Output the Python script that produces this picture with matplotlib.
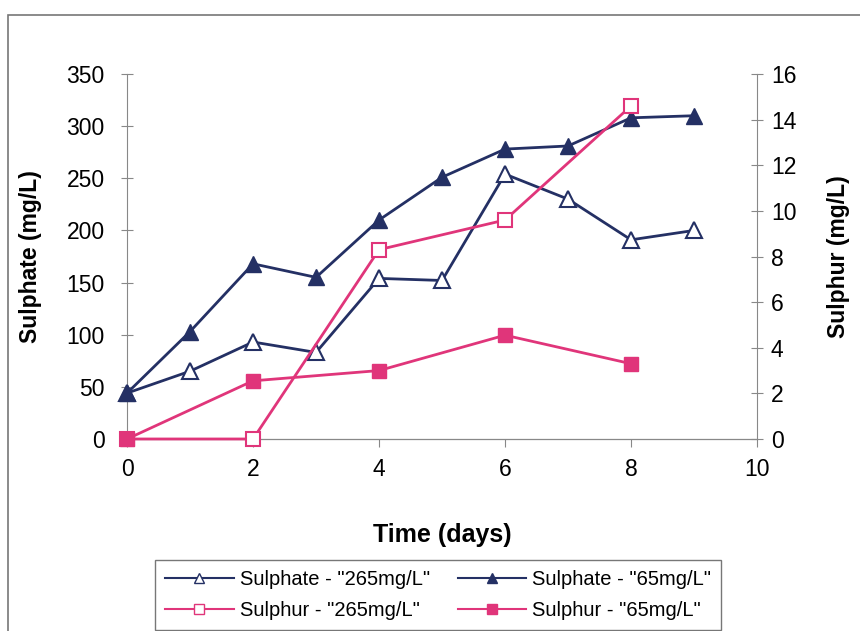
import numpy as np
import matplotlib.pyplot as plt
from matplotlib.patches import Rectangle
from matplotlib.lines import Line2D

plt.rcParams['font.family'] = ['Liberation Sans', 'DejaVu Sans']

days = [0, 1, 2, 3, 4, 5, 6, 7, 8, 9]
sulphate_265 = [44, 65, 93, 83, 154, 152, 254, 230, 191, 200]
sulphate_65 = [44, 103, 168, 155, 210, 251, 278, 281, 308, 310]

sulphur_days = [0, 2, 4, 6, 8]
sulphur_265 = [0, 0, 8.3, 9.6, 14.6]
sulphur_65 = [0, 2.55, 3.0, 4.55, 3.3]

navy = '#243064'
pink = '#e0357a'

fig = plt.figure(figsize=(8.6, 6.31), dpi=100)
ax = fig.add_axes([0.1477, 0.3043, 0.7326, 0.5784])
ax2 = ax.twinx()

ax.plot(days, sulphate_265, c=navy, lw=2, marker='^', ms=11, mfc='white', mec=navy, mew=1.5, zorder=3, clip_on=False)
ax.plot(days, sulphate_65, c=navy, lw=2, marker='^', ms=11, mfc=navy, mec=navy, zorder=3, clip_on=False)
ax2.plot(sulphur_days, sulphur_265, c=pink, lw=2, marker='s', ms=10, mfc='white', mec=pink, mew=1.5, zorder=3, clip_on=False)
ax2.plot(sulphur_days, sulphur_65, c=pink, lw=2, marker='s', ms=10, mfc=pink, mec=pink, zorder=3, clip_on=False)

ax.set_xlim(0, 10)
ax.set_ylim(0, 350)
ax2.set_ylim(0, 16)
ax.set_xticks(np.arange(0, 11, 2))
ax.set_yticks(np.arange(0, 351, 50))
ax2.set_yticks(np.arange(0, 17, 2))

for a in (ax, ax2):
    a.spines['top'].set_visible(False)
    a.tick_params(labelsize=16.5, colors='#888888', labelcolor='black', length=5, width=0.8)
    for s in a.spines.values():
        s.set_color('#888888')
ax.spines['bottom'].set_color('#555555')
ax.spines['right'].set_visible(False)
ax2.spines['left'].set_visible(False)
ax2.tick_params(axis='y', direction='inout', length=8, pad=6)
ax.tick_params(axis='y', direction='inout', length=8, pad=12)
ax.tick_params(axis='x', direction='out', length=6, pad=8)

ax.set_xlabel('Time (days)', fontsize=18, fontweight='bold', labelpad=30)
ax.set_ylabel('Sulphate (mg/L)', fontsize=16.5, fontweight='bold', labelpad=18)
ax2.set_ylabel('Sulphur (mg/L)', fontsize=16.5, fontweight='bold', labelpad=22)

# outer chart frame
fig.patches.append(Rectangle((8 / 860, -0.01), 1.0, 1 - 15 / 631 + 0.01, transform=fig.transFigure,
                             fill=False, ec='#777777', lw=1.2))

handles = [
    Line2D([], [], c=navy, lw=1.5, marker='^', ms=7, mfc='white', mec=navy),
    Line2D([], [], c=pink, lw=1.5, marker='s', ms=7, mfc='white', mec=pink),
    Line2D([], [], c=navy, lw=1.5, marker='^', ms=7, mfc=navy, mec=navy),
    Line2D([], [], c=pink, lw=1.5, marker='s', ms=7, mfc=pink, mec=pink),
]
labels = ['Sulphate - "265mg/L"', 'Sulphur - "265mg/L"', 'Sulphate - "65mg/L"', 'Sulphur - "65mg/L"']
leg = fig.legend(handles, labels, ncol=2, loc='upper left', bbox_to_anchor=(155 / 860, 1 - 560 / 631),
                 fontsize=14.5, frameon=True, fancybox=False, edgecolor='#555555',
                 handlelength=3.4, handletextpad=0.3, columnspacing=1.4, borderpad=0.5, labelspacing=0.6,
                 borderaxespad=0)
leg.get_frame().set_linewidth(1)

fig.savefig('out.png', dpi=100)
